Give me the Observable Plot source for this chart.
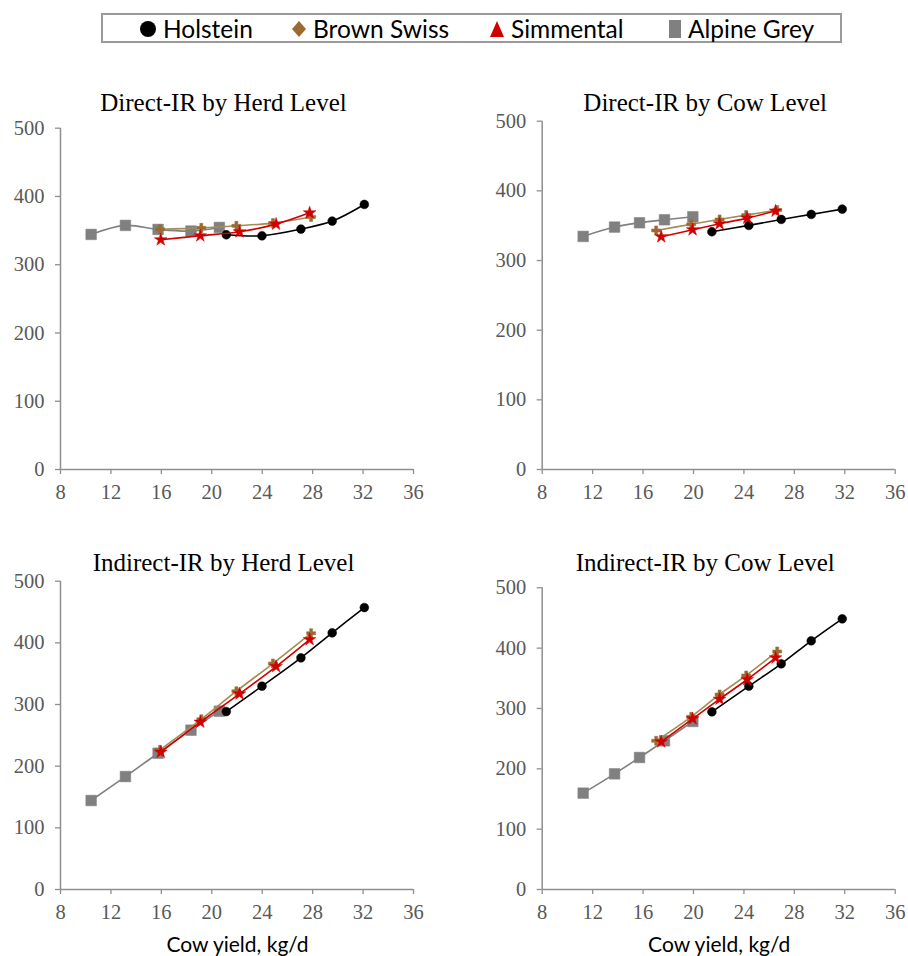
<!DOCTYPE html>
<html>
<head>
<meta charset="utf-8">
<script src="https://cdn.jsdelivr.net/npm/d3@7"></script>
<script src="https://cdn.jsdelivr.net/npm/@observablehq/plot@0.6"></script>
<style>
  html, body { margin: 0; padding: 0; background: #fff; }
  #root { position: relative; width: 908px; height: 956px; overflow: hidden; background: #fff; }
  .panel { position: absolute; }
  #legend { position: absolute; left: 101px; top: 13px; width: 737px; height: 26px;
            border: 2px solid #9a9a9a; font-family: Lato, "Open Sans", sans-serif; font-size: 24.5px; color: #000; }
  .li { position: absolute; top: 0; height: 26px; line-height: 28px; white-space: nowrap; }
  .li svg { position: absolute; top: 5px; }
  .li span { position: absolute; top: 0; }
</style>
</head>
<body>
<div id="root">
  <div id="legend"></div>
</div>
<script>
// ---------- data ----------
const breeds = ["Holstein", "Brown Swiss", "Simmental", "Alpine Grey"];
const panelTitles = ["Direct-IR by Herd Level", "Direct-IR by Cow Level", "Indirect-IR by Herd Level", "Indirect-IR by Cow Level"];
const xTicks = [8, 12, 16, 20, 24, 28, 32, 36];
const yTicks = [0, 100, 200, 300, 400, 500];
const xAxisLabel = "Cow yield, kg/d";

// cow yield (kg/d) at herd level
const herdYieldHolstein   = [21.15, 23.98, 27.07, 29.55, 32.10];
const herdYieldBrownSwiss = [15.90, 19.17, 21.95, 24.85, 27.88];
const herdYieldSimmental  = [15.95, 19.09, 22.20, 25.10, 27.76];
const herdYieldAlpineGrey = [10.43, 13.15, 15.74, 18.35, 20.60];
// cow yield (kg/d) at cow level
const cowYieldHolstein   = [21.46, 24.39, 26.96, 29.34, 31.80];
const cowYieldBrownSwiss = [17.04, 19.82, 22.07, 24.18, 26.64];
const cowYieldSimmental  = [17.44, 19.93, 22.07, 24.26, 26.51];
const cowYieldAlpineGrey = [11.25, 13.74, 15.72, 17.70, 19.95];

// Direct-IR by herd level
const directHerdHolstein   = [343.9, 342.4, 352.2, 363.9, 388.3];
const directHerdBrownSwiss = [352.0, 354.0, 357.0, 361.0, 370.0];
const directHerdSimmental  = [336.6, 342.4, 348.3, 359.5, 376.0];
const directHerdAlpineGrey = [344.4, 357.6, 351.7, 349.3, 354.6];
// Direct-IR by cow level
const directCowHolstein   = [341.3, 350.4, 359.0, 366.2, 373.8];
const directCowBrownSwiss = [343.2, 352.0, 359.0, 365.2, 372.4];
const directCowSimmental  = [334.1, 344.2, 352.8, 360.9, 371.0];
const directCowAlpineGrey = [334.6, 348.0, 354.2, 358.5, 362.8];
// Indirect-IR by herd level
const indirectHerdHolstein   = [288.6, 329.7, 375.7, 416.2, 457.3];
const indirectHerdBrownSwiss = [226.5, 276.2, 321.6, 366.5, 415.7];
const indirectHerdSimmental  = [222.7, 271.4, 317.3, 361.6, 405.4];
const indirectHerdAlpineGrey = [144.3, 183.2, 221.0, 258.4, 289.2];
// Indirect-IR by cow level
const indirectCowHolstein   = [294.5, 337.0, 374.0, 412.2, 448.6];
const indirectCowBrownSwiss = [246.4, 286.2, 323.2, 354.7, 394.5];
const indirectCowSimmental  = [244.8, 282.9, 315.5, 348.0, 384.0];
const indirectCowAlpineGrey = [159.7, 191.7, 218.8, 246.4, 278.5];

// ---------- styles ----------
const lineColor = {"Holstein": "#000000", "Brown Swiss": "#a58b55", "Simmental": "#d00000", "Alpine Grey": "#808080"};
const markColor = {"Holstein": "#000000", "Brown Swiss": "#9c6a30", "Simmental": "#d00000", "Alpine Grey": "#808080"};
const markSymbol = {"Holstein": "circle", "Brown Swiss": "cross", "Simmental": "star", "Alpine Grey": "square"};
const markR = {"Holstein": 4.4, "Brown Swiss": 3.8, "Simmental": 4.0, "Alpine Grey": 6};
const drawOrder = ["Alpine Grey", "Holstein", "Brown Swiss", "Simmental"];

function rows(xs, ys) {
  const out = [];
  breeds.forEach((b, bi) => xs[bi].forEach((x, i) => out.push({breed: b, x, y: ys[bi][i]})));
  return out;
}
const herdX = [herdYieldHolstein, herdYieldBrownSwiss, herdYieldSimmental, herdYieldAlpineGrey];
const cowX = [cowYieldHolstein, cowYieldBrownSwiss, cowYieldSimmental, cowYieldAlpineGrey];
const panelData = [
  rows(herdX, [directHerdHolstein, directHerdBrownSwiss, directHerdSimmental, directHerdAlpineGrey]),
  rows(cowX, [directCowHolstein, directCowBrownSwiss, directCowSimmental, directCowAlpineGrey]),
  rows(herdX, [indirectHerdHolstein, indirectHerdBrownSwiss, indirectHerdSimmental, indirectHerdAlpineGrey]),
  rows(cowX, [indirectCowHolstein, indirectCowBrownSwiss, indirectCowSimmental, indirectCowAlpineGrey])
];

// layout of the four panels
const layout = [
  {left: 0,   top: 80,  height: 440, mt: 47.7, mb: 51, ml: 60,   mr: 41,   titleDx: -13.5, xlabel: false},
  {left: 454, top: 80,  height: 440, mt: 40.7, mb: 51, ml: 87.7, mr: 13.3, titleDx: -13.5, xlabel: false},
  {left: 0,   top: 540, height: 416, mt: 40.7, mb: 67, ml: 60,   mr: 41,   titleDx: -13.5, xlabel: true},
  {left: 454, top: 540, height: 416, mt: 47.3, mb: 67, ml: 87.7, mr: 13.3, titleDx: -13.5, xlabel: true}
];

const serif = "'Liberation Serif', 'Times New Roman', serif";
const sans = "Lato, 'Open Sans', sans-serif";
const axisGray = "#8f8f8f";

const root = document.getElementById("root");
layout.forEach((L, pi) => {
  const data = panelData[pi];
  const marks = [
    Plot.ruleY([0], {stroke: axisGray, strokeWidth: 1.5}),
    Plot.ruleX([8], {stroke: axisGray, strokeWidth: 1.5}),
    Plot.axisX({ticks: xTicks, tickSize: 5, tickPadding: 10, stroke: axisGray, fill: "#595959",
                fontSize: 20.5, fontFamily: serif, label: null, strokeWidth: 1.3}),
    Plot.axisY({ticks: yTicks, tickSize: 5, tickPadding: 11, stroke: axisGray, fill: "#595959",
                fontSize: 20.5, fontFamily: serif, label: null, strokeWidth: 1.3}),
    Plot.text([panelTitles[pi]], {frameAnchor: "top", dx: L.titleDx, dy: -(L.mt - 22),
                lineAnchor: "middle", fontSize: 25, fontFamily: serif, fill: "#000"})
  ];
  drawOrder.forEach(b => {
    const d = data.filter(r => r.breed === b);
    marks.push(Plot.line(d, {x: "x", y: "y", stroke: lineColor[b], strokeWidth: 1.6, curve: "catmull-rom"}));
    marks.push(Plot.dot(d, {x: "x", y: "y", symbol: () => markSymbol[b], r: markR[b],
                            fill: markColor[b], stroke: markColor[b], strokeWidth: 0.5}));
  });
  if (L.xlabel) {
    marks.push(Plot.text([xAxisLabel], {frameAnchor: "bottom", dx: 0.5, dy: 56, lineAnchor: "middle",
                fontSize: 21, fontFamily: sans, fill: "#000"}));
  }
  const svg = Plot.plot({
    width: 454, height: L.height,
    marginTop: L.mt, marginBottom: L.mb, marginLeft: L.ml, marginRight: L.mr,
    x: {domain: [8, 36]},
    y: {domain: [0, 500]},
    symbol: {type: "identity"},
    style: {background: "transparent", overflow: "visible"},
    marks
  });
  const div = document.createElement("div");
  div.className = "panel";
  div.style.left = L.left + "px";
  div.style.top = L.top + "px";
  div.appendChild(svg);
  root.appendChild(div);
});

// ---------- legend ----------
const legendItems = [
  {name: "Holstein", sx: 45, tx: 60},
  {name: "Brown Swiss", sx: 196, tx: 210},
  {name: "Simmental", sx: 394, tx: 408},
  {name: "Alpine Grey", sx: 572, tx: 585}
];
const legendShape = {
  "Holstein": '<circle cx="8" cy="9" r="8" fill="#000"/>',
  "Brown Swiss": '<path d="M8 1 L15 9 L8 17 L1 9 Z" fill="#9c6a30"/>',
  "Simmental": '<path d="M8 1 L15 17 L1 17 Z" fill="#d00000"/>',
  "Alpine Grey": '<rect x="2" y="0" width="12" height="18" fill="#808080"/>'
};
const legend = document.getElementById("legend");
legendItems.forEach(it => {
  const el = document.createElement("div");
  el.className = "li";
  el.style.left = "0px";
  el.innerHTML = `<svg width="16" height="18" style="left:${it.sx - 8}px">${legendShape[it.name]}</svg>` +
                 `<span style="left:${it.tx}px">${it.name}</span>`;
  legend.appendChild(el);
});
</script>
</body>
</html>
